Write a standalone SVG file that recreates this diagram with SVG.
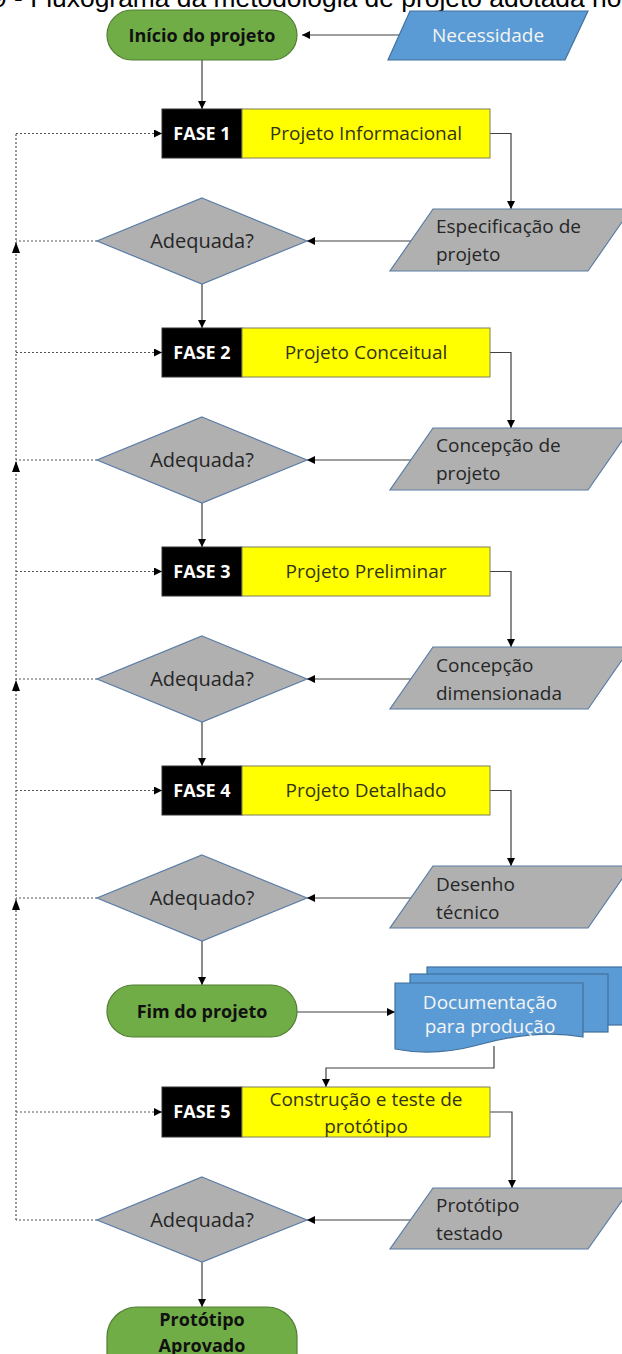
<svg xmlns="http://www.w3.org/2000/svg" width="622" height="1354" viewBox="0 0 622 1354">
<style>
.pill{fill:#70AD47;stroke:#507E32;stroke-width:1.2;}
.pt{font-family:"Open Sans","Liberation Sans",sans-serif;font-weight:bold;font-size:18px;fill:#111;text-anchor:middle;}
.blk{fill:#000;stroke:#333;stroke-width:1;}
.yel{fill:#FFFF00;stroke:#7F7F60;stroke-width:1;}
.ft{font-family:"Open Sans","Liberation Sans",sans-serif;font-weight:bold;font-size:18px;fill:#fff;text-anchor:middle;}
.yt{font-family:"Open Sans","Liberation Sans",sans-serif;font-size:19px;fill:#333318;text-anchor:middle;}
.gray{fill:#B0B0B0;stroke:#5A7CA6;stroke-width:1.2;}
.gt{font-family:"Open Sans","Liberation Sans",sans-serif;font-size:19px;fill:#262626;}
.dt{font-family:"Open Sans","Liberation Sans",sans-serif;font-size:20px;fill:#262626;text-anchor:middle;}
.blue{fill:#5B9BD5;stroke:#41719C;stroke-width:1.2;}
.bt{font-family:"Open Sans","Liberation Sans",sans-serif;font-size:19px;fill:#F4F4F4;text-anchor:middle;}
.ln{fill:none;stroke:#404040;stroke-width:1.2;}
.dl{fill:none;stroke:#555;stroke-width:1.2;stroke-dasharray:2 2;}
</style>
<defs>
<marker id="ah" viewBox="0 0 10 10" refX="10" refY="5" markerWidth="10" markerHeight="8" markerUnits="userSpaceOnUse" orient="auto">
<path d="M0,0 L10,5 L0,10 z" fill="#000"/>
</marker>
</defs>
<rect width="622" height="1354" fill="#fff"/>
<text x="-8" y="7" font-family="Liberation Sans, Arial, sans-serif" font-size="26.4" fill="#000">9 - Fluxograma da metodologia de projeto adotada no</text>

<g id="connectors">
<path class="ln" d="M399,35 H302" marker-end="url(#ah)"/>
<path class="ln" d="M202,60 V109" marker-end="url(#ah)"/>
<path class="ln" d="M490,133.5 H511 V209" marker-end="url(#ah)"/>
<path class="ln" d="M411,241 H307" marker-end="url(#ah)"/>
<path class="ln" d="M202,284 V328" marker-end="url(#ah)"/>
<path class="ln" d="M490,352.5 H511 V428" marker-end="url(#ah)"/>
<path class="ln" d="M411,460 H307" marker-end="url(#ah)"/>
<path class="ln" d="M202,503 V547" marker-end="url(#ah)"/>
<path class="ln" d="M490,571.5 H511 V647" marker-end="url(#ah)"/>
<path class="ln" d="M411,679 H307" marker-end="url(#ah)"/>
<path class="ln" d="M202,722 V766" marker-end="url(#ah)"/>
<path class="ln" d="M490,790.5 H511 V866" marker-end="url(#ah)"/>
<path class="ln" d="M411,898 H307" marker-end="url(#ah)"/>
<path class="ln" d="M202,941 V985" marker-end="url(#ah)"/>
<path class="ln" d="M297,1012 H395" marker-end="url(#ah)"/>
<path class="ln" d="M494,1046 V1068 H326 V1087" marker-end="url(#ah)"/>
<path class="ln" d="M490,1112 H512 V1188" marker-end="url(#ah)"/>
<path class="ln" d="M411,1220 H307" marker-end="url(#ah)"/>
<path class="ln" d="M202,1262 V1307" marker-end="url(#ah)"/>
<path class="dl" d="M16,1220 V133.5"/>
<path class="dl" d="M16,133.5 H162" marker-end="url(#ah)"/>
<path class="dl" d="M16,352.5 H162" marker-end="url(#ah)"/>
<path class="dl" d="M16,571.5 H162" marker-end="url(#ah)"/>
<path class="dl" d="M16,790.5 H162" marker-end="url(#ah)"/>
<path class="dl" d="M16,1112 H162" marker-end="url(#ah)"/>
<path class="dl" d="M97,241 H16"/>
<path class="dl" d="M97,460 H16"/>
<path class="dl" d="M97,679 H16"/>
<path class="dl" d="M97,898 H16"/>
<path class="dl" d="M97,1220 H16"/>
<polygon points="16,242 12,253 20,253" fill="#000"/>
<polygon points="16,461 12,472 20,472" fill="#000"/>
<polygon points="16,680 12,691 20,691" fill="#000"/>
<polygon points="16,899 12,910 20,910" fill="#000"/>
</g>

<g id="inicio">
<rect class="pill" x="107" y="10" width="190" height="50" rx="25"/>
<text class="pt" x="202" y="42">Início do projeto</text>
</g>
<g id="necessidade">
<polygon class="blue" points="410,11 588,11 565,60 388,60"/>
<text class="bt" x="488" y="42">Necessidade</text>
</g>

<g id="fase1">
<rect class="blk" x="162" y="109" width="80" height="49"/>
<rect class="yel" x="242" y="109" width="248" height="49"/>
<text class="ft" x="202" y="140">FASE 1</text>
<text class="yt" x="366" y="140">Projeto Informacional</text>
</g>
<g id="espec">
<polygon class="gray" points="433,209 631,209 588,271 390,271"/>
<text class="gt" x="436" y="233">Especificação de</text>
<text class="gt" x="436" y="261">projeto</text>
</g>
<g id="dec1">
<polygon class="gray" points="202,198 307,241 202,284 97,241"/>
<text class="dt" x="202" y="248">Adequada?</text>
</g>

<g id="fase2">
<rect class="blk" x="162" y="328" width="80" height="49"/>
<rect class="yel" x="242" y="328" width="248" height="49"/>
<text class="ft" x="202" y="359">FASE 2</text>
<text class="yt" x="366" y="359">Projeto Conceitual</text>
</g>
<g id="concepcao">
<polygon class="gray" points="433,428 631,428 588,490 390,490"/>
<text class="gt" x="436" y="452">Concepção de</text>
<text class="gt" x="436" y="480">projeto</text>
</g>
<g id="dec2">
<polygon class="gray" points="202,417 307,460 202,503 97,460"/>
<text class="dt" x="202" y="467">Adequada?</text>
</g>

<g id="fase3">
<rect class="blk" x="162" y="547" width="80" height="49"/>
<rect class="yel" x="242" y="547" width="248" height="49"/>
<text class="ft" x="202" y="578">FASE 3</text>
<text class="yt" x="366" y="578">Projeto Preliminar</text>
</g>
<g id="concdim">
<polygon class="gray" points="433,647 631,647 588,709 390,709"/>
<text class="gt" x="436" y="672">Concepção</text>
<text class="gt" x="436" y="700">dimensionada</text>
</g>
<g id="dec3">
<polygon class="gray" points="202,636 307,679 202,722 97,679"/>
<text class="dt" x="202" y="686">Adequada?</text>
</g>

<g id="fase4">
<rect class="blk" x="162" y="766" width="80" height="49"/>
<rect class="yel" x="242" y="766" width="248" height="49"/>
<text class="ft" x="202" y="797">FASE 4</text>
<text class="yt" x="366" y="797">Projeto Detalhado</text>
</g>
<g id="desenho">
<polygon class="gray" points="433,866 631,866 588,928 390,928"/>
<text class="gt" x="436" y="891">Desenho</text>
<text class="gt" x="436" y="919">técnico</text>
</g>
<g id="dec4">
<polygon class="gray" points="202,855 307,898 202,941 97,898"/>
<text class="dt" x="202" y="905">Adequado?</text>
</g>

<g id="fim">
<rect class="pill" x="107" y="985" width="190" height="52" rx="26"/>
<text class="pt" x="202" y="1018">Fim do projeto</text>
</g>
<g id="documentacao">
<rect class="blue" x="427" y="967" width="205" height="58"/>
<rect class="blue" x="410" y="974" width="198" height="58"/>
<path class="blue" d="M395,983 H583 V1037 C545,1030 510,1036 478,1045 C448,1053 420,1054 395,1049 Z"/>
<text class="bt" x="490" y="1009" font-size="20">Documentação</text>
<text class="bt" x="490" y="1033" font-size="20">para produção</text>
</g>

<g id="fase5">
<rect class="blk" x="162" y="1087" width="80" height="50"/>
<rect class="yel" x="242" y="1087" width="248" height="50"/>
<text class="ft" x="202" y="1118">FASE 5</text>
<text class="yt" x="366" y="1106">Construção e teste de</text>
<text class="yt" x="366" y="1133">protótipo</text>
</g>
<g id="prototipo-testado">
<polygon class="gray" points="433,1188 631,1188 588,1249 390,1249"/>
<text class="gt" x="436" y="1212">Protótipo</text>
<text class="gt" x="436" y="1240">testado</text>
</g>
<g id="dec5">
<polygon class="gray" points="202,1177 307,1220 202,1262 97,1220"/>
<text class="dt" x="202" y="1227">Adequada?</text>
</g>

<g id="aprovado">
<rect class="pill" x="107" y="1307" width="190" height="80" rx="30"/>
<text class="pt" x="202" y="1326">Protótipo</text>
<text class="pt" x="202" y="1352">Aprovado</text>
</g>
</svg>
